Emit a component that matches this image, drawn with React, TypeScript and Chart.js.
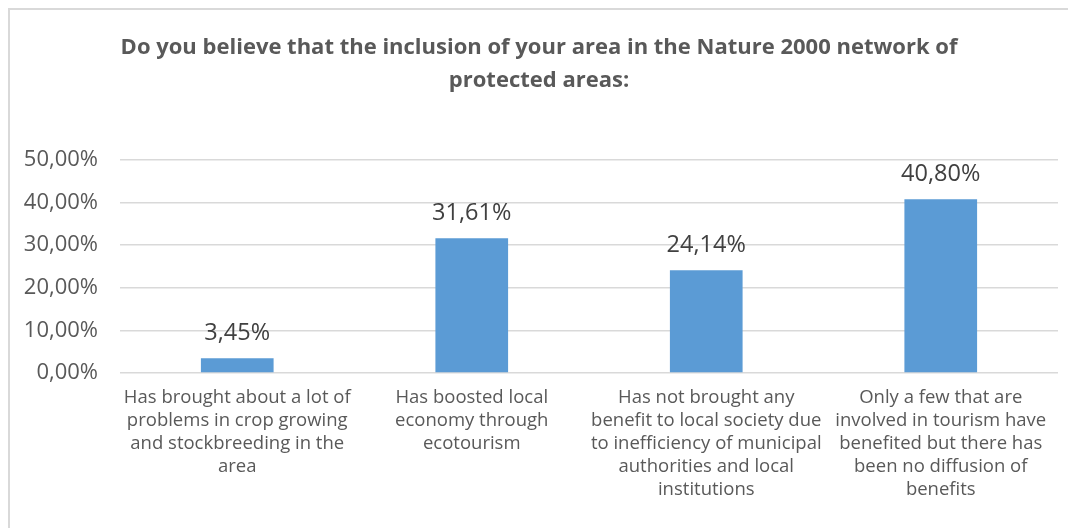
import React, { useEffect, useRef } from "react";
import { Chart, registerables } from "chart.js";

Chart.register(...registerables);

const titleLines = [
  "Do you believe that the inclusion of your area in the Nature 2000 network of",
  "protected areas:",
];

const categories: string[][] = [
  ["Has brought about a lot of", "problems in crop growing", "and stockbreeding in the", "area"],
  ["Has boosted local", "economy through", "ecotourism"],
  ["Has not brought any", "benefit to local society due", "to inefficiency of municipal", "authorities and local", "institutions"],
  ["Only a few that are", "involved in tourism have", "benefited but there has", "been no diffusion of", "benefits"],
];

const values = [3.45, 31.61, 24.14, 40.8];

const yTicks = [0, 10, 20, 30, 40, 50];

const fmt = (v: number) => v.toFixed(2).replace(".", ",") + "%";

const dataLabelPlugin = {
  id: "dataLabels",
  afterDatasetsDraw(chart: any) {
    const ctx = chart.ctx;
    const meta = chart.getDatasetMeta(0);
    ctx.save();
    ctx.font = "23.5px 'Open Sans'";
    ctx.fillStyle = "#404040";
    ctx.textAlign = "center";
    ctx.textBaseline = "alphabetic";
    meta.data.forEach((bar: any, i: number) => {
      ctx.fillText(fmt(values[i]), bar.x, bar.y - 18);
    });
    ctx.restore();
  },
};

export default function App() {
  const ref = useRef<HTMLCanvasElement>(null);

  useEffect(() => {
    document.body.style.overflow = "hidden";
    const chart = new Chart(ref.current!, {
      type: "bar",
      data: {
        labels: categories,
        datasets: [
          {
            data: values,
            backgroundColor: "#5b9bd5",
            borderWidth: 0,
            barPercentage: 0.62,
            categoryPercentage: 0.5,
          },
        ],
      },
      options: {
        animation: false,
        responsive: false,
        devicePixelRatio: 1,
        layout: { padding: { left: 10, right: 18, top: 0, bottom: 10 } },
        plugins: {
          legend: { display: false },
          tooltip: { enabled: false },
          title: {
            display: true,
            text: titleLines,
            color: "#595959",
            font: { family: "'Open Sans'", size: 22, weight: "bold", lineHeight: 1.5 },
            padding: { top: 21, bottom: 63 },
          },
        },
        scales: {
          x: {
            grid: { display: false, drawTicks: false },
            border: { display: false },
            ticks: {
              color: "#595959",
              font: { family: "'Open Sans'", size: 18.5, lineHeight: 1.25 },
              maxRotation: 0,
              minRotation: 0,
              autoSkip: false,
              padding: 13,
            },
            afterFit: (s: any) => {
              s.height = 145;
            },
          },
          y: {
            min: 0,
            max: 50,
            afterBuildTicks: (s: any) => {
              s.ticks = yTicks.map((v) => ({ value: v }));
            },
            grid: { color: "#d9d9d9", lineWidth: 1.5, drawTicks: false },
            border: { display: false },
            ticks: {
              color: "#595959",
              font: { family: "'Open Sans'", size: 22 },
              padding: 22,
              callback: (v: any) => fmt(Number(v)),
            },
            afterFit: (s: any) => {
              s.width = 100;
            },
          },
        },
      },
      plugins: [dataLabelPlugin],
    });
    return () => chart.destroy();
  }, []);

  return (
    <div
      style={{
        width: 1068,
        height: 520,
        boxSizing: "border-box",
        borderTop: "2px solid #d9d9d9",
        borderLeft: "2px solid #d9d9d9",
        background: "#fff",
        overflow: "hidden",
      }}
    >
      <canvas ref={ref} width={1066} height={518} style={{ display: "block" }} />
    </div>
  );
}
